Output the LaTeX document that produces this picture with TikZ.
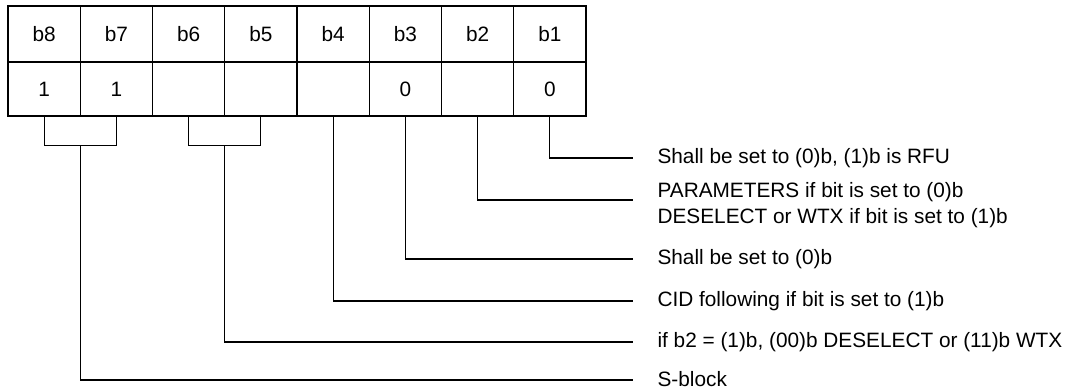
\documentclass[tikz,border=0pt]{standalone}
\usepackage{fontspec}
\setmainfont{Liberation Sans}
\usetikzlibrary{positioning,calc}

\begin{document}
\begin{tikzpicture}[x=1pt,y=-1pt,node distance=72.25pt,on grid,line width=1.1pt,
    font=\fontsize{20.8}{26}\selectfont,
    headcell/.style={draw,minimum width=72.25pt,minimum height=56pt,inner sep=0pt},
    bitcell/.style={draw,minimum width=72.25pt,minimum height=54pt,inner sep=0pt},
    note/.style={anchor=west,inner xsep=24pt,inner ysep=0pt,align=left}]
    \useasboundingbox (0,0) rectangle (1076,390);

    % bit numbers
    \node[headcell] (b8) at (44.1,34) {b8};
    \node[headcell] (b7) [right=of b8] {b7};
    \node[headcell] (b6) [right=of b7] {b6};
    \node[headcell] (b5) [right=of b6] {b5};
    \node[headcell] (b4) [right=of b5] {b4};
    \node[headcell] (b3) [right=of b4] {b3};
    \node[headcell] (b2) [right=of b3] {b2};
    \node[headcell] (b1) [right=of b2] {b1};

    % bit values
    \node[bitcell] (v8) [below=55pt of b8] {1};
    \node[bitcell] (v7) [below=55pt of b7] {1};
    \node[bitcell] (v6) [below=55pt of b6] {};
    \node[bitcell] (v5) [below=55pt of b5] {};
    \node[bitcell] (v4) [below=55pt of b4] {};
    \node[bitcell] (v3) [below=55pt of b3] {0};
    \node[bitcell] (v2) [below=55pt of b2] {};
    \node[bitcell] (v1) [below=55pt of b1] {0};

    % line ends
    \coordinate (e1) at (633,158);
    \coordinate (e2) at (633,200);
    \coordinate (e3) at (633,259);
    \coordinate (e4) at (633,301);
    \coordinate (e65) at (633,342);
    \coordinate (e87) at (633,380);

    % meanings
    \node[note] (t1) at (e1) {Shall be set to (0)b, (1)b is RFU};
    \node[note,yshift=-5pt] (t2) at (e2) {PARAMETERS if bit is set to (0)b\\DESELECT or WTX if bit is set to (1)b};
    \node[note] (t3) at (e3) {Shall be set to (0)b};
    \node[note] (t4) at (e4) {CID following if bit is set to (1)b};
    \node[note] (t65) at (e65) {if b2 = (1)b, (00)b DESELECT or (11)b WTX};
    \node[note,yshift=1pt] (t87) at (e87) {S-block};

    % single bits
    \draw (v1.south) |- (e1);
    \draw (v2.south) |- (e2);
    \draw (v3.south) |- (e3);
    \draw (v4.south) |- (e4);

    % bit pairs
    \draw (v6.south) -- ++(0,29) -| (v5.south);
    \coordinate (m65) at ($(v6.south)!0.5!(v5.south)+(0,29)$);
    \draw (m65) |- (e65);
    \draw (v8.south) -- ++(0,29) -| (v7.south);
    \coordinate (m87) at ($(v8.south)!0.5!(v7.south)+(0,29)$);
    \draw (m87) |- (e87);
\end{tikzpicture}
\end{document}
